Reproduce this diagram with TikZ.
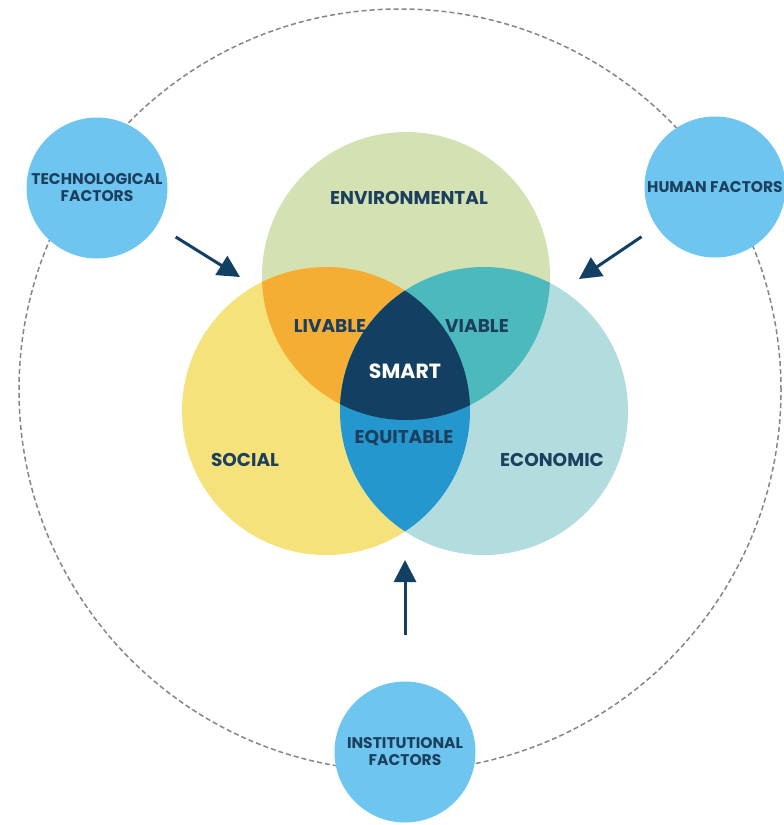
\documentclass[tikz,border=0pt]{standalone}
\usepackage{fontspec}
\setmainfont{Poppins}
\usepackage{tikz}
\usetikzlibrary{calc,arrows.meta}
\definecolor{envgreen}{HTML}{D4E1B3}
\definecolor{socialyellow}{HTML}{F6E27A}
\definecolor{econteal}{HTML}{B3DCDF}
\definecolor{livableorange}{HTML}{F5AD33}
\definecolor{viableteal}{HTML}{4CB9BC}
\definecolor{equitableblue}{HTML}{2597CF}
\definecolor{smartnavy}{HTML}{123F62}
\definecolor{factorblue}{HTML}{6EC6F0}
\definecolor{textnavy}{HTML}{1C3F5E}
\definecolor{ringgray}{HTML}{858585}
\tikzstyle{venn}=[circle,inner sep=0pt,minimum size=288pt]
\tikzstyle{factor}=[circle,fill=factorblue,inner sep=0pt,minimum size=141pt,
                    text=textnavy,font=\fontsize{15.5}{17}\selectfont\bfseries,align=center]
\tikzstyle{vennlabel}=[text=textnavy,font=\fontsize{18.5}{20}\selectfont\bfseries,inner sep=0pt]
\tikzstyle{push}=[-{Triangle[length=22pt,width=22pt]},line width=3pt,draw=smartnavy]
\newcommand\vennradius{144pt}
\newcommand\envcircle{(406,276) circle (\vennradius)}
\newcommand\socialcircle{(326,411) circle (\vennradius)}
\newcommand\econcircle{(484,411) circle (\vennradius)}

\begin{document}
\begin{tikzpicture}[x=1pt,y=-1pt]
    \useasboundingbox (0,0) rectangle (784,825);
    \clip (0,0) rectangle (784,825);
    % outer ring
    \draw [ringgray,dash pattern=on 5pt off 3pt,line width=1.5pt] (400,390) circle (381pt);
    % the three pillars
    \node [venn,fill=envgreen] (Environmental) at (406,276) {};
    \node [venn,fill=socialyellow] (Social) at (326,411) {};
    \node [venn,fill=econteal] (Economic) at (484,411) {};
    \begin{scope}
        \clip \envcircle;
        \fill [livableorange] \socialcircle;
        \fill [viableteal] \econcircle;
    \end{scope}
    \begin{scope}
        \clip \socialcircle;
        \fill [equitableblue] \econcircle;
        \clip \econcircle;
        \fill [smartnavy] \envcircle;
    \end{scope}
    \node [vennlabel] (Environmental label) at (409,198) {ENVIRONMENTAL};
    \node [vennlabel] (Social label) at (245,460) {SOCIAL};
    \node [vennlabel] (Economic label) at (552,460) {ECONOMIC};
    \node [vennlabel] (Livable) at (330,326) {LIVABLE};
    \node [vennlabel] (Viable) at (477,326) {VIABLE};
    \node [vennlabel] (Equitable) at (404,438) {EQUITABLE};
    \node [vennlabel,text=white,font=\fontsize{20.5}{22}\selectfont\bfseries] (Smart) at (405,371) {SMART};
    % factors
    \node [factor] (Technological) at (97,188) {TECHNOLOGICAL\\FACTORS};
    \node [factor] (Human) at (715,187) {HUMAN FACTORS};
    \node [factor] (Institutional) at (405,752) {INSTITUTIONAL\\FACTORS};
    \coordinate (Technological aim) at (240,277);
    \coordinate (Human aim) at (579,279);
    \coordinate (Institutional aim) at (405,560);
    \draw [push,shorten <=22pt] (Technological) -- (Technological aim);
    \draw [push,shorten <=18pt] (Human) -- (Human aim);
    \draw [push,shorten <=46pt] (Institutional) -- (Institutional aim);
\end{tikzpicture}
\end{document}
